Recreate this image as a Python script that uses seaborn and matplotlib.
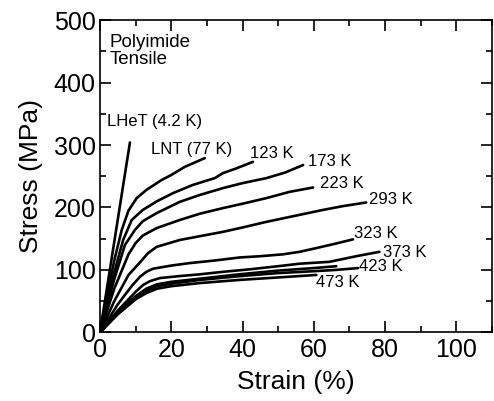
import matplotlib

matplotlib.use("Agg")
import matplotlib.pyplot as plt
import pandas as pd
import seaborn as sns
from matplotlib.ticker import MultipleLocator

# strain (%) / stress (MPa)
lhet_x = [0, 8.4]
lhet_y = [0, 304]
lnt_x = [0, 2, 4, 6.1, 8, 10.3, 13, 17.3, 20, 23.8, 27, 29.4]
lnt_y = [0, 60, 115, 164, 195, 215, 228, 244, 252, 265, 273, 279]
k123_x = [0, 3, 6.5, 8.9, 12, 16, 20.5, 26, 32.2, 34.5, 38, 42.9]
k123_y = [0, 75, 148, 180, 196, 210, 223, 236, 247, 255, 262, 273]
k173_x = [0, 4, 7, 9.8, 12, 15.9, 22.4, 28, 34.5, 40, 46.7, 52, 57]
k173_y = [0, 85, 140, 164, 178, 191, 209, 220, 231, 239, 247, 256, 268]
k223_x = [0, 4, 8, 10, 12, 15.9, 22.4, 28, 34.5, 40, 46.7, 53.2, 59.8]
k223_y = [0, 70, 125, 143, 155, 167, 180, 190, 199, 206, 215, 225, 232]
k293_x = [0, 4, 8, 11.2, 13.5, 15.9, 22.4, 28, 34.5, 40, 46.7, 55, 62.5, 68, 74.7]
k293_y = [0, 50, 92, 112, 127, 137, 148, 154, 161, 168, 177, 187, 196, 202, 208]
k323_x = [0, 5, 9, 11.2, 13, 14.9, 20, 25.2, 32, 39.2, 45, 51.3, 56, 60.7, 66, 71]
k323_y = [0, 45, 75, 89, 97, 102, 107, 111, 115, 120, 122, 125, 129, 135, 142, 149]
k373_x = [0, 5, 10, 12.1, 14, 16.8, 22, 28, 34.5, 42, 50, 56, 64.4, 71.9, 78.4]
k373_y = [0, 35, 65, 76, 82, 87, 90, 93, 97, 101, 106, 110, 113, 122, 129]
kxxx_x = [0, 5, 10, 13, 16, 20, 28, 39, 50, 60, 66.3]
kxxx_y = [0, 33, 58, 70, 77, 81, 86, 93, 99, 103, 106]
k423_x = [0, 5, 10, 13, 16, 20, 28, 39, 50, 60, 66, 72.4]
k423_y = [0, 31, 56, 67, 74, 78, 84, 90, 95, 98, 100, 103]
k473_x = [0, 5, 10, 13, 16, 20, 28, 39, 50, 60.7]
k473_y = [0, 29, 53, 63, 70, 74, 79, 84, 88, 92]

curve_names = ["LHeT", "LNT", "123", "173", "223", "293", "323", "373", "xxx", "423", "473"]
curve_xs = [lhet_x, lnt_x, k123_x, k173_x, k223_x, k293_x, k323_x, k373_x, kxxx_x, k423_x, k473_x]
curve_ys = [lhet_y, lnt_y, k123_y, k173_y, k223_y, k293_y, k323_y, k373_y, kxxx_y, k423_y, k473_y]

# curve labels: text, strain, stress
label_texts = ["LHeT (4.2 K)", "LNT (77 K)", "123 K", "173 K", "223 K", "293 K",
               "323 K", "373 K", "423 K", "473 K"]
label_x = [1.9, 14.3, 42, 58.4, 61.6, 75.6, 71.4, 79.4, 72.6, 60.7]
label_y = [337, 292, 286, 273, 239, 213, 159, 128, 106, 80]

rows = []
for name, xs, ys in zip(curve_names, curve_xs, curve_ys):
    for i, (sx, sy) in enumerate(zip(xs, ys)):
        rows.append({"curve": name, "order": i, "strain": sx, "stress": sy})
df = pd.DataFrame(rows)

sns.set_style("ticks")
plt.rcParams["font.family"] = ["Liberation Sans", "DejaVu Sans"]
plt.rcParams["axes.linewidth"] = 1.2
plt.rcParams["text.color"] = "black"
plt.rcParams["axes.labelcolor"] = "black"
plt.rcParams["axes.edgecolor"] = "black"

fig = plt.figure(figsize=(4.94, 4.01), dpi=100)
ax = fig.add_axes([0.2024, 0.171, 0.7936, 0.779])

sns.lineplot(data=df, x="strain", y="stress", units="curve", estimator=None,
             sort=False, color="black", linewidth=1.9, ax=ax)

for txt, tx, ty in zip(label_texts, label_x, label_y):
    ax.text(tx, ty, txt, fontsize=12, va="center", ha="left")

ax.text(2.8, 478, "Polyimide\nTensile", fontsize=13.5, va="top", ha="left",
        linespacing=1.0)

ax.set_xlim(0, 110)
ax.set_ylim(0, 500)
ax.xaxis.set_major_locator(MultipleLocator(20))
ax.xaxis.set_minor_locator(MultipleLocator(10))
ax.yaxis.set_major_locator(MultipleLocator(100))
ax.yaxis.set_minor_locator(MultipleLocator(50))
ax.tick_params(which="both", direction="in", top=True, right=True,
               width=1.2, labelsize=18, colors="black")
ax.tick_params(axis="x", pad=4)
ax.tick_params(axis="y", pad=3)
ax.tick_params(which="major", length=8)
ax.tick_params(which="minor", length=4)
ax.set_xlabel("Strain (%)", fontsize=19, labelpad=6)
ax.set_ylabel("Stress (MPa)", fontsize=19, labelpad=8)

fig.savefig("out.png", dpi=100)
